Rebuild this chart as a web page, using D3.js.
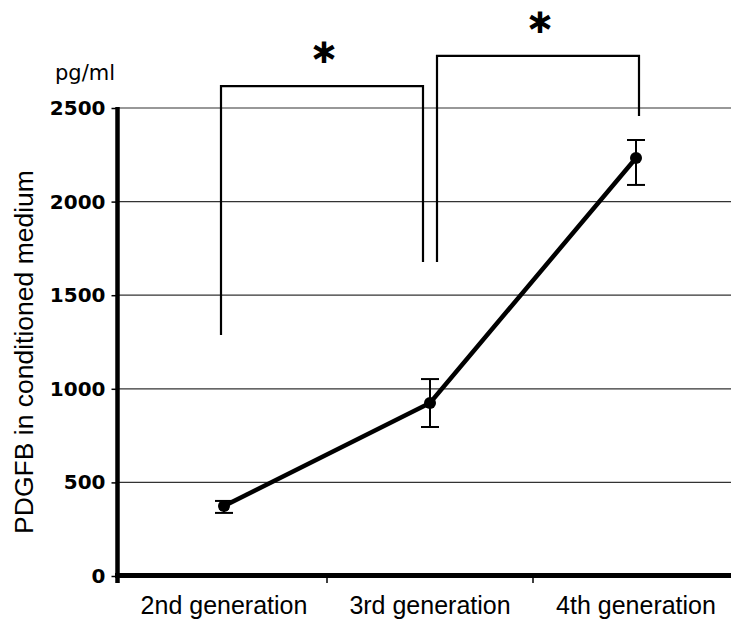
<!DOCTYPE html>
<html>
<head>
<meta charset="utf-8">
<script src="https://cdn.jsdelivr.net/npm/d3@7"></script>
<style>
  body { margin: 0; background: #fff; }
  svg { display: block; }
</style>
</head>
<body>
<div id="graph"></div>
<script>
// data
var generations = ['2nd generation', '3rd generation', '4th generation']
var means = [374, 924, 2233]
var errUpper = [401, 1052, 2329]
var errLower = [337, 796, 2089]
var yTicks = [0, 500, 1000, 1500, 2000, 2500]

// significance brackets: [from, to, top, left leg end, right leg end]
var bracketFrom = ['2nd generation', '3rd generation']
var bracketTo = ['3rd generation', '4th generation']
var bracketTop = [2617, 2778]
var bracketLeftEnd = [1287, 1677]
var bracketRightEnd = [1677, 2457]
var bracketNudge = [[-3, -7], [7, 3]]

var width = 731
var height = 622

var svg = d3.select('#graph').append('svg')
  .attr('width', width)
  .attr('height', height)

var xScale = d3.scaleBand()
  .domain(generations)
  .range([121, 739])

var yScale = d3.scaleLinear()
  .domain([0, 2500])
  .range([576, 108])

function cx(name) { return xScale(name) + xScale.bandwidth() / 2 }

// gridlines
svg.append('g')
  .selectAll('line')
  .data(yTicks.filter(function(d) { return d > 0 }))
  .enter().append('line')
  .attr('x1', 117)
  .attr('x2', width)
  .attr('y1', function(d) { return yScale(d) })
  .attr('y2', function(d) { return yScale(d) })
  .attr('stroke', '#333')
  .attr('stroke-width', 1.2)

// y axis
var yAxis = svg.append('g')
  .attr('transform', 'translate(117.5,0)')
  .call(d3.axisLeft(yScale).tickValues(yTicks).tickFormat(d3.format('d')).tickSize(6).tickSizeOuter(0).tickPadding(6))
yAxis.select('.domain').remove()
yAxis.selectAll('.tick line').attr('stroke', '#000').attr('stroke-width', 1.5)
yAxis.selectAll('.tick text')
  .attr('font-family', 'DejaVu Sans, sans-serif')
  .attr('font-weight', 'bold')
  .attr('font-size', '20px')
  .attr('fill', '#000')
svg.append('line')
  .attr('x1', 117.5).attr('x2', 117.5)
  .attr('y1', yScale(2500) - 1).attr('y2', 583)
  .attr('stroke', '#000').attr('stroke-width', 4.5)

// x axis
var xAxis = svg.append('g')
  .attr('transform', 'translate(0,575.5)')
  .call(d3.axisBottom(xScale).tickSize(0).tickPadding(21))
xAxis.select('.domain').remove()
xAxis.selectAll('.tick text')
  .attr('font-family', 'Liberation Sans, Arial, sans-serif')
  .attr('font-size', '25px')
  .attr('fill', '#000')
svg.append('line')
  .attr('x1', 115).attr('x2', width)
  .attr('y1', 575.5).attr('y2', 575.5)
  .attr('stroke', '#000').attr('stroke-width', 5)
svg.append('g')
  .selectAll('line')
  .data(generations.slice(1))
  .enter().append('line')
  .attr('x1', function(d) { return xScale(d) })
  .attr('x2', function(d) { return xScale(d) })
  .attr('y1', 576).attr('y2', 583)
  .attr('stroke', '#000').attr('stroke-width', 1.5)

// axis titles
svg.append('text')
  .attr('x', 55).attr('y', 80)
  .attr('font-family', 'DejaVu Sans, sans-serif')
  .attr('font-size', '21px')
  .text('pg/ml')
svg.append('text')
  .attr('transform', 'translate(33,352) rotate(-90)')
  .attr('text-anchor', 'middle')
  .attr('font-family', 'Liberation Sans, Arial, sans-serif')
  .attr('font-size', '26.5px')
  .text('PDGFB in conditioned medium')

// line
var line = d3.line()
  .x(function(d, i) { return cx(generations[i]) })
  .y(function(d) { return yScale(d) })
svg.append('path')
  .datum(means)
  .attr('d', line)
  .attr('fill', 'none')
  .attr('stroke', '#000')
  .attr('stroke-width', 4.5)

// error bars
var errs = svg.append('g')
  .selectAll('g')
  .data(generations)
  .enter().append('g')
errs.append('line')
  .attr('x1', function(d) { return cx(d) })
  .attr('x2', function(d) { return cx(d) })
  .attr('y1', function(d, i) { return yScale(errUpper[i]) })
  .attr('y2', function(d, i) { return yScale(errLower[i]) })
  .attr('stroke', '#000').attr('stroke-width', 2)
errs.selectAll('.cap')
  .data(function(d, i) { return [[d, errUpper[i]], [d, errLower[i]]] })
  .enter().append('line')
  .attr('x1', function(d) { return cx(d[0]) - 9 })
  .attr('x2', function(d) { return cx(d[0]) + 9 })
  .attr('y1', function(d) { return yScale(d[1]) })
  .attr('y2', function(d) { return yScale(d[1]) })
  .attr('stroke', '#000').attr('stroke-width', 2)

svg.append('g')
  .selectAll('circle')
  .data(means)
  .enter().append('circle')
  .attr('cx', function(d, i) { return cx(generations[i]) })
  .attr('cy', function(d) { return yScale(d) })
  .attr('r', 6)
  .attr('fill', '#000')

// brackets
for (var i = 0; i < bracketFrom.length; i++) {
  var xl = cx(bracketFrom[i]) + bracketNudge[i][0]
  var xr = cx(bracketTo[i]) + bracketNudge[i][1]
  var yt = yScale(bracketTop[i])
  svg.append('path')
    .attr('d', 'M' + xl + ',' + yScale(bracketLeftEnd[i]) + 'V' + yt + 'H' + xr + 'V' + yScale(bracketRightEnd[i]))
    .attr('fill', 'none')
    .attr('stroke', '#000')
    .attr('stroke-width', 2.2)
  svg.append('text')
    .attr('x', (xl + xr) / 2 + 2)
    .attr('y', yt - 12)
    .attr('text-anchor', 'middle')
    .attr('font-family', 'DejaVu Sans, sans-serif')
    .attr('font-size', '42px')
    .attr('stroke', '#000')
    .attr('stroke-width', 2)
    .text('*')
}
</script>
</body>
</html>
